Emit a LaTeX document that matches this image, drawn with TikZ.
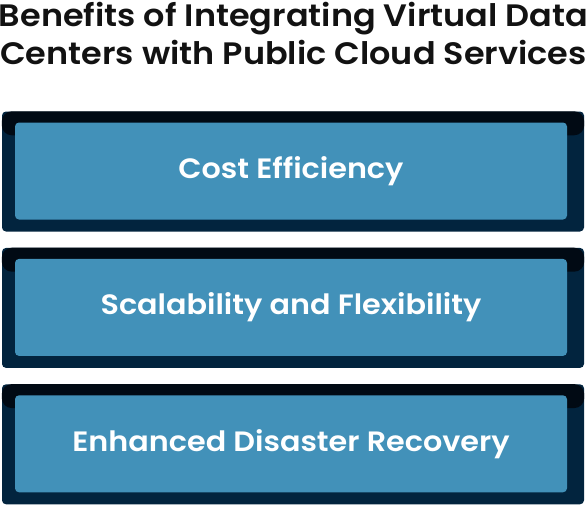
\documentclass[tikz,border=0pt]{standalone}
\usepackage{fontspec}
\usepackage{tikz}
\usetikzlibrary{positioning}
\newfontfamily\headfont{Poppins SemiBold}[FakeStretch=1.08]
\definecolor{framenavy}{RGB}{2, 36, 62}
\definecolor{bandblack}{RGB}{1, 10, 20}
\definecolor{cardblue}{RGB}{66, 145, 185}
\definecolor{titleink}{RGB}{18, 18, 18}

\begin{document}
\begin{tikzpicture}
			[x=1pt, y=-1pt,
			title/.style={text=titleink, inner sep=0pt, anchor=base, font=\headfont\fontsize{31}{36}\selectfont},
			frame/.style={fill=framenavy, rounded corners=4pt, inner sep=0pt, minimum width=582pt, minimum height=120pt},
			card/.style={fill=cardblue, rounded corners=4pt, inner sep=0pt, minimum width=552pt, minimum height=97pt, text=white, font=\headfont\fontsize{28}{34}\selectfont},
			band/.style={fill=bandblack, rounded corners=10pt}]
			\useasboundingbox (0,0) rectangle (587,504);

			\node[title] (title1) at (293.5,26) {Benefits of Integrating Virtual Data};
			\node[title] (title2) at (293.5,64) {Centers with Public Cloud Services};

			\node[frame] (frame1) at (293,171.5) {};
			\node[frame, below = 16pt of frame1] (frame2) {};
			\node[frame, below = 16pt of frame2] (frame3) {};

			\fill[band] (frame1.north west) rectangle ([yshift=-24pt]frame1.north east);
			\fill[band] (frame2.north west) rectangle ([yshift=-24pt]frame2.north east);
			\fill[band] (frame3.north west) rectangle ([yshift=-24pt]frame3.north east);

			\node[card] (cost) at ([xshift=-2pt, yshift=0.5pt]frame1.center) {Cost Efficiency};
			\node[card] (scale) at ([xshift=-2pt, yshift=0.5pt]frame2.center) {Scalability and Flexibility};
			\node[card] (recovery) at ([xshift=-2pt, yshift=0.5pt]frame3.center) {Enhanced Disaster Recovery};
		\end{tikzpicture}
\end{document}
